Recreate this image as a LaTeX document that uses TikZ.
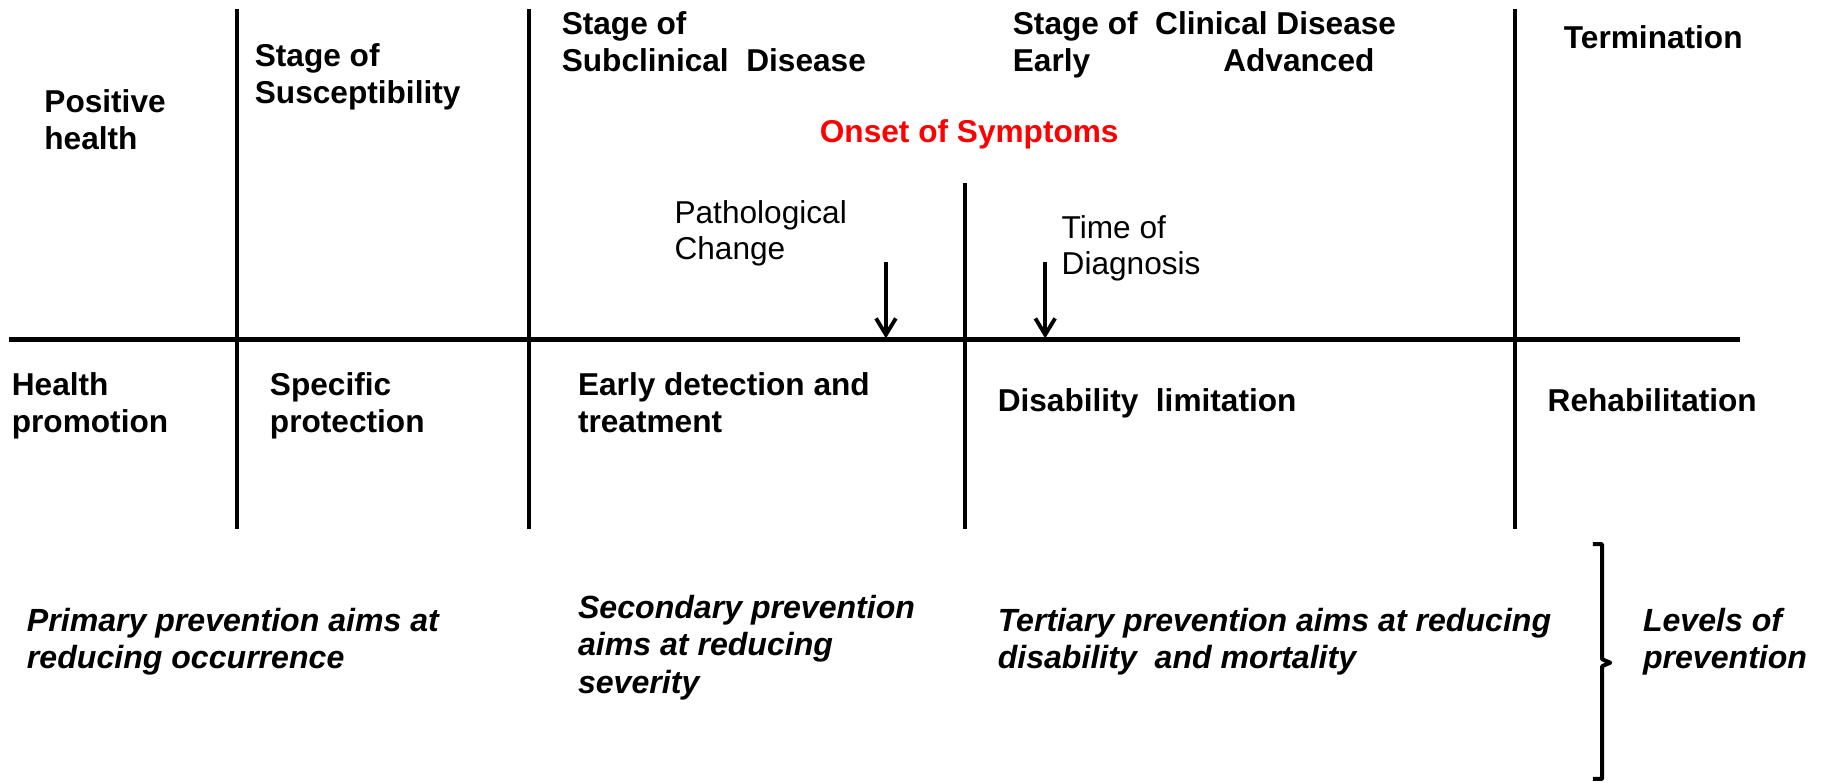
\documentclass[tikz,border=0pt]{standalone}
\usepackage{fontspec}
\setmainfont{Liberation Sans}
\usetikzlibrary{arrows.meta}
\pgfdeclarehorizontalshading{bgshade}{100bp}{color(0bp)=(black!7); color(22bp)=(white); color(78bp)=(white); color(100bp)=(black!9)}
\begin{document}
\begin{tikzpicture}[x=1pt,y=-1pt,
  lbl/.style={anchor=north west,inner sep=0pt,align=left,font=\fontsize{27.2}{32}\selectfont\bfseries},
  lblreg/.style={lbl,font=\fontsize{27.2}{31}\selectfont},
  lblit/.style={lbl,font=\fontsize{27.6}{32}\selectfont\bfseries\itshape},
  axis/.style={line width=3.5pt},
  pointer/.style={line width=3.3pt,-{Straight Barb[length=14pt,width=17pt,line width=3.3pt]}}]
\useasboundingbox (0,0) rectangle (1568,673);
\shade[shading=bgshade] (0,0) rectangle (1568,673);
% grid lines
\coordinate (h0) at (8,292);
\coordinate (h1) at (1497,292);
\draw[axis] (h0) -- (h1);
\coordinate (v1t) at (204,8);   \coordinate (v1b) at (204,455);
\coordinate (v2t) at (455,8);   \coordinate (v2b) at (455,455);
\coordinate (v3t) at (830,157); \coordinate (v3b) at (830,455);
\coordinate (v4t) at (1303,8);  \coordinate (v4b) at (1303,455);
\draw[axis] (v1t) -- (v1b);
\draw[axis] (v2t) -- (v2b);
\draw[axis] (v3t) -- (v3b);
\draw[axis] (v4t) -- (v4b);
% arrows
\coordinate (a1s) at (762,225); \coordinate (a1e) at (762,291);
\coordinate (a2s) at (899,225); \coordinate (a2e) at (899,291);
\draw[pointer] (a1s) -- (a1e);
\draw[pointer] (a2s) -- (a2e);
% top labels
\node[lbl] (pos) at (38,77) {Positive\\health};
\node[lbl] (sus) at (219,37) {Stage of\\Susceptibility};
\node[lbl] (sub) at (483,10) {Stage of\\Subclinical\ \ Disease};
\node[lbl] (cli) at (871,10) {Stage of\ \ Clinical Disease};
\node[lbl] (early) at (871,42) {Early};
\node[lbl] (adv) at (1052,42) {Advanced};
\node[lbl] (term) at (1345,22) {Termination};
\node[lbl,text=red] (onset) at (705,103) {Onset of Symptoms};
\node[lblreg] (path) at (580,172) {Pathological\\Change};
\node[lblreg] (diag) at (913,185) {Time of\\Diagnosis};
% lower labels
\node[lbl] (hp) at (10,320) {Health\\promotion};
\node[lbl] (sp) at (232,320) {Specific\\protection};
\node[lbl] (edt) at (497,320) {Early detection and\\treatment};
\node[lbl] (dl) at (858,334) {Disability\ \ limitation};
\node[lbl] (reh) at (1331,334) {Rehabilitation};
% levels
\node[lblit] (prim) at (23,523) {Primary prevention aims at\\reducing occurrence};
\node[lblit] (sec) at (497,512) {Secondary prevention\\aims at reducing\\severity};
\node[lblit] (ter) at (858,523) {Tertiary prevention aims at reducing\\disability\ \ and mortality};
\node[lblit] (lev) at (1413,523) {Levels of\\prevention};
% brace
\draw[line width=3.4pt,line join=round] (1370,468) -- (1378,468) -- (1378,567) -- (1385,570) -- (1378,573) -- (1378,670) -- (1370,670);
\end{tikzpicture}
\end{document}
